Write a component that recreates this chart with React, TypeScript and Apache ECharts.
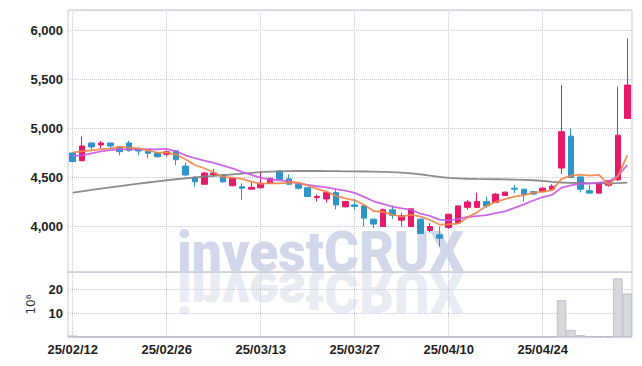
import React, { useEffect, useRef } from "react";
import * as echarts from "echarts";

const dates = [
  "25/02/12", "25/02/13", "25/02/14", "25/02/17", "25/02/18", "25/02/19", "25/02/20", "25/02/21", "25/02/24", "25/02/25",
  "25/02/26", "25/02/27", "25/02/28", "25/03/04", "25/03/05", "25/03/06", "25/03/07", "25/03/10", "25/03/11", "25/03/12",
  "25/03/13", "25/03/14", "25/03/17", "25/03/18", "25/03/19", "25/03/20", "25/03/21", "25/03/24", "25/03/25", "25/03/26",
  "25/03/27", "25/03/28", "25/03/31", "25/04/01", "25/04/02", "25/04/03", "25/04/04", "25/04/07", "25/04/08", "25/04/09",
  "25/04/10", "25/04/11", "25/04/14", "25/04/15", "25/04/16", "25/04/17", "25/04/18", "25/04/21", "25/04/22", "25/04/23",
  "25/04/24", "25/04/25", "25/04/28", "25/04/29", "25/04/30", "25/05/02", "25/05/07", "25/05/08", "25/05/09", "25/05/12",
];

const opens = [
  4748, 4670, 4850, 4830, 4850, 4810, 4850, 4796, 4766, 4749,
  4735, 4770, 4615, 4500, 4430, 4528, 4525, 4415, 4405, 4380,
  4395, 4440, 4565, 4485, 4430, 4395, 4295, 4280, 4345, 4200,
  4220, 4210, 4075, 4000, 4170, 4065, 4000, 4075, 3960, 3915,
  3990, 4035, 4195, 4195, 4255, 4245, 4315, 4390, 4380, 4355,
  4355, 4380, 4595, 4920, 4505, 4365, 4340, 4420, 4475, 5100,
];
const closes = [
  4662, 4820, 4810, 4850, 4820, 4762, 4775, 4769, 4745, 4711,
  4760, 4680, 4525, 4455, 4545, 4545, 4455, 4490, 4390, 4400,
  4440, 4490, 4480, 4430, 4390, 4305, 4305, 4345, 4220, 4255,
  4205, 4085, 4025, 4170, 4115, 4110, 4180, 3930, 4000, 3880,
  4125, 4210, 4250, 4255, 4210, 4330, 4350, 4380, 4328, 4330,
  4390, 4410, 4965, 4500, 4380, 4340, 4440, 4465, 4930, 5440,
];
const lows = [
  4655, 4665, 4776, 4796, 4790, 4725, 4762, 4728, 4695, 4700,
  4712, 4626, 4510, 4405, 4428, 4505, 4445, 4410, 4270, 4378,
  4385, 4435, 4478, 4425, 4375, 4300, 4255, 4245, 4175, 4195,
  4170, 4000, 3985, 3998, 4078, 4000, 3998, 3925, 3938, 3795,
  3975, 4030, 4170, 4190, 4190, 4240, 4310, 4340, 4255, 4320,
  4350, 4375, 4535, 4495, 4348, 4338, 4335, 4405, 4460, 5095,
];
const highs = [
  4752, 4915, 4860, 4871, 4852, 4812, 4874, 4800, 4768, 4752,
  4775, 4775, 4650, 4510, 4555, 4585, 4530, 4495, 4440, 4455,
  4560, 4495, 4570, 4530, 4435, 4400, 4325, 4348, 4375, 4260,
  4280, 4225, 4080, 4185, 4215, 4140, 4182, 4080, 4035, 4000,
  4128, 4212, 4270, 4345, 4305, 4340, 4355, 4425, 4385, 4365,
  4400, 4430, 5440, 5000, 4510, 4425, 4445, 4470, 5425, 5915,
];
const ma5 = [
  4755, 4765, 4775, 4788, 4793, 4812, 4803, 4795, 4774, 4752,
  4752, 4733, 4684, 4626, 4593, 4550, 4505, 4498, 4485, 4456,
  4435, 4442, 4440, 4448, 4446, 4419, 4382, 4355, 4313, 4286,
  4266, 4222, 4158, 4148, 4120, 4101, 4120, 4101, 4067, 4020,
  4023, 4029, 4093, 4144, 4210, 4251, 4279, 4305, 4320, 4344,
  4356, 4368, 4485, 4519, 4529, 4519, 4525, 4425, 4511, 4723,
];
const ma10 = [
  4718, 4725, 4745, 4765, 4778, 4785, 4786, 4786, 4787, 4785,
  4790, 4765, 4725, 4695, 4670, 4648, 4619, 4591, 4556, 4525,
  4497, 4478, 4470, 4462, 4440, 4425, 4410, 4398, 4381, 4366,
  4343, 4302, 4257, 4231, 4203, 4184, 4171, 4130, 4108, 4070,
  4062, 4075, 4097, 4106, 4115, 4137, 4154, 4190, 4225, 4265,
  4300, 4323, 4395, 4419, 4436, 4437, 4446, 4455, 4515, 4626,
];
const maLong = [
  4344, 4358, 4372, 4386, 4399, 4412, 4424, 4436, 4448, 4460,
  4471, 4481, 4490, 4499, 4507, 4515, 4522, 4530, 4538, 4546,
  4553, 4558, 4562, 4564, 4565, 4565, 4565, 4564, 4563, 4562,
  4561, 4560, 4558, 4556, 4553, 4548, 4540, 4530, 4518, 4505,
  4496, 4490, 4486, 4484, 4483, 4481, 4479, 4477, 4474, 4471,
  4465, 4455, 4448, 4445, 4443, 4441, 4440, 4440, 4442, 4446,
];
const volumes = [
  0.6, 0.15, 0.15, 0.15, 0.15, 0.15, 0.15, 0.15, 0.15, 0.15,
  0.15, 0.15, 0.15, 0.15, 0.15, 0.15, 0.15, 0.15, 0.15, 0.15,
  0.15, 0.15, 0.15, 0.15, 0.15, 0.15, 0.15, 0.15, 0.15, 0.15,
  0.15, 0.15, 0.15, 0.15, 0.15, 0.15, 0.15, 0.15, 0.15, 0.15,
  0.15, 0.15, 0.15, 0.15, 0.15, 0.15, 0.15, 0.15, 0.15, 0.15,
  0.15, 0.15, 15.4, 2.9, 0.8, 0.4, 0.2, 0.2, 24.5, 18.2,
];

const UP = "#e6196a";
const DOWN = "#2f95c9";
const GRID_LINE = "#c6c8d8";
const LABEL_FONT = "'Liberation Sans', Arial, sans-serif";
const WATERMARK_FONT = "Roboto, 'Open Sans', sans-serif";

export default function App() {
  const ref = useRef<HTMLDivElement>(null);
  useEffect(() => {
    if (!ref.current) return;
    const chart = echarts.init(ref.current, undefined, { renderer: "svg" });
    const isLabel = (i: number) => i % 10 === 0;
    const candles = dates.map((_, i) => [opens[i], closes[i], lows[i], highs[i]]);
    const labelStyle = {
      color: "#1e1e1e",
      fontFamily: LABEL_FONT,
      fontWeight: "bold",
      fontSize: 13,
    };
    const option: any = {
      animation: false,
      backgroundColor: "#ffffff",
      grid: [
        { left: 68, right: 10, top: 10, height: 262, show: true, borderColor: "#c8c8d2", borderWidth: 1 },
        { left: 68, right: 10, top: 272, height: 65, show: true, borderColor: "#c8c8d2", borderWidth: 1 },
      ],
      graphic: [
        {
          type: "text",
          x: 177,
          y: 224,
          scaleX: 0.955,
          z: -10,
          silent: true,
          style: {
            text: "investCRUX",
            fontSize: 56,
            fontWeight: 900,
            fontFamily: WATERMARK_FONT,
            fill: "#d2d8ea",
          },
        },
        {
          type: "text",
          x: 177,
          y: 320,
          scaleX: 0.955,
          scaleY: -1,
          z: -10,
          silent: true,
          style: {
            text: "investCRUX",
            fontSize: 56,
            fontWeight: 900,
            fontFamily: WATERMARK_FONT,
            fill: "#e9ebf3",
          },
        },
      ],
      xAxis: [
        {
          type: "category",
          gridIndex: 0,
          data: dates,
          boundaryGap: true,
          axisLine: { show: false },
          axisTick: { show: false },
          axisLabel: { show: false },
          splitLine: { show: true, interval: isLabel, alignWithLabel: true, lineStyle: { type: "dotted", color: GRID_LINE } },
        },
        {
          type: "category",
          gridIndex: 1,
          data: dates,
          boundaryGap: true,
          axisLine: { show: false },
          axisTick: { show: false },
          axisLabel: { interval: isLabel, margin: 6, ...labelStyle },
          splitLine: { show: true, interval: isLabel, alignWithLabel: true, lineStyle: { type: "dotted", color: GRID_LINE } },
        },
      ],
      yAxis: [
        {
          type: "value",
          gridIndex: 0,
          min: 3537,
          max: 6204,
          splitNumber: 5,
          axisLine: { show: false },
          axisTick: { show: false },
          axisLabel: {
            showMinLabel: false,
            showMaxLabel: false,
            margin: 5,
            ...labelStyle,
            formatter: (v: number) => (v % 500 === 0 ? v.toLocaleString("en-US") : ""),
          },
          splitLine: { show: true, lineStyle: { type: "dotted", color: GRID_LINE } },
        },
        {
          type: "value",
          gridIndex: 1,
          min: 0,
          max: 27.2,
          splitNumber: 2,
          name: "10⁶",
          nameLocation: "middle",
          nameRotate: 90,
          nameGap: 31,
          nameTextStyle: { fontFamily: "'DejaVu Sans', sans-serif", fontSize: 12, color: "#333" },
          axisLine: { show: false },
          axisTick: { show: false },
          axisLabel: {
            showMinLabel: false,
            showMaxLabel: false,
            margin: 5,
            ...labelStyle,
            formatter: (v: number) => (v > 0 && v % 10 === 0 ? String(v) : ""),
          },
          splitLine: { show: true, lineStyle: { type: "dotted", color: GRID_LINE } },
        },
      ],
      series: [
        {
          type: "bar",
          xAxisIndex: 1,
          yAxisIndex: 1,
          data: volumes,
          barCategoryGap: "0%",
          itemStyle: { color: "#d7d7de", borderColor: "#b8b8c4", borderWidth: 0.8 },
        },
        {
          type: "candlestick",
          xAxisIndex: 0,
          yAxisIndex: 0,
          data: candles,
          barWidth: 6,
          itemStyle: { color: UP, color0: DOWN, borderColor: UP, borderColor0: DOWN, borderWidth: 1 },
        },
        {
          type: "line",
          xAxisIndex: 0,
          yAxisIndex: 0,
          data: maLong,
          showSymbol: false,
          lineStyle: { color: "#7f7f7f", width: 1.8, opacity: 0.9 },
          z: 3,
        },
        {
          type: "line",
          xAxisIndex: 0,
          yAxisIndex: 0,
          data: ma10,
          showSymbol: false,
          lineStyle: { color: "#c858e4", width: 1.8, opacity: 0.9 },
          z: 3,
        },
        {
          type: "line",
          xAxisIndex: 0,
          yAxisIndex: 0,
          data: ma5,
          showSymbol: false,
          lineStyle: { color: "#ef8548", width: 1.8, opacity: 0.9 },
          z: 3,
        },
      ],
    };
    chart.setOption(option);
    return () => chart.dispose();
  }, []);
  return (
    <div
      ref={ref}
      style={{ position: "fixed", left: 0, top: 0, width: 642, height: 366, background: "#fff" }}
    />
  );
}
